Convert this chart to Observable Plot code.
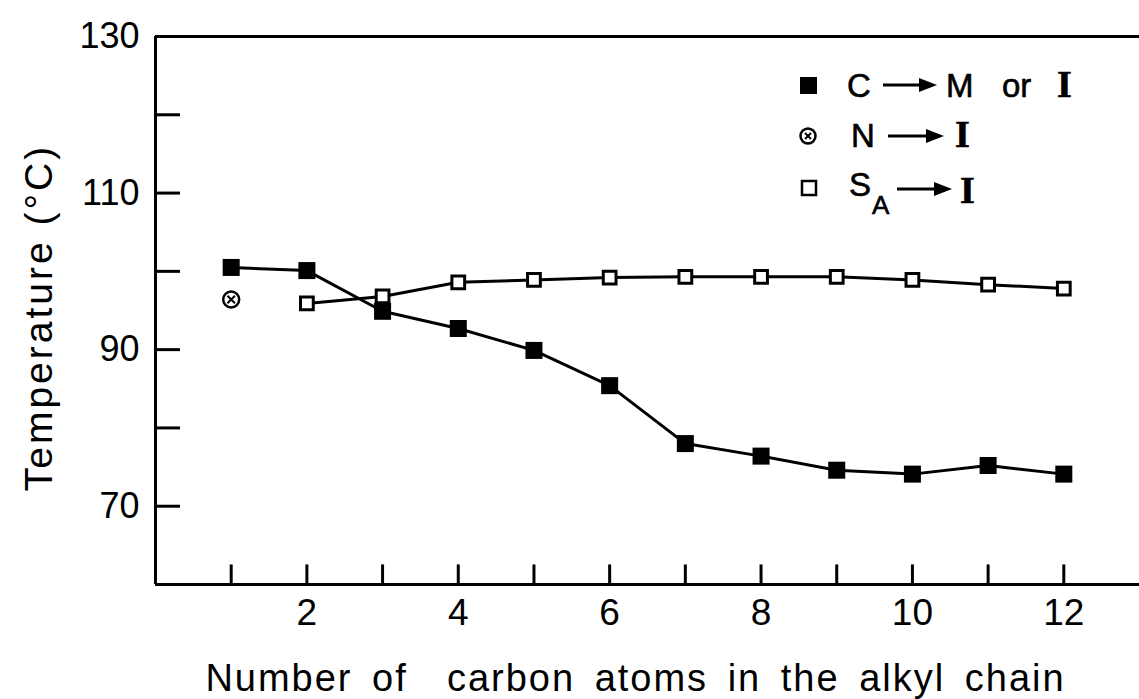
<!DOCTYPE html>
<html>
<head>
<meta charset="utf-8">
<script src="https://cdn.jsdelivr.net/npm/d3@7"></script>
<script src="https://cdn.jsdelivr.net/npm/@observablehq/plot@0.6"></script>
<style>
  body { margin: 0; background: #fff; }
  #wrap { position: relative; width: 1139px; height: 699px; }
</style>
</head>
<body>
<div id="wrap"></div>
<script>
// ---- data ----
const carbonAtoms = [1, 2, 3, 4, 5, 6, 7, 8, 9, 10, 11, 12];
const crystalToMesoOrIso = [100.5, 100.1, 94.9, 92.7, 89.9, 85.4, 78.0, 76.4, 74.6, 74.1, 75.2, 74.1];
const smecticAtoms = [2, 3, 4, 5, 6, 7, 8, 9, 10, 11, 12];
const smecticToIso = [95.9, 96.8, 98.6, 98.9, 99.2, 99.3, 99.3, 99.3, 98.9, 98.3, 97.8];
const nematicAtoms = [1];
const nematicToIso = [96.4];
const xTicks = [1, 2, 3, 4, 5, 6, 7, 8, 9, 10, 11, 12];
const xTickLabels = [2, 4, 6, 8, 10, 12];
const yTicks = [70, 80, 90, 100, 110, 120];
const yTickLabels = [70, 90, 110, 130];
const xTitle = "Number of  carbon atoms in the alkyl chain";
const yTitle = "Temperature (°C)";

const cRows = carbonAtoms.map((n, i) => ({n, t: crystalToMesoOrIso[i]}));
const sRows = smecticAtoms.map((n, i) => ({n, t: smecticToIso[i]}));
const nRows = nematicAtoms.map((n, i) => ({n, t: nematicToIso[i]}));

const FONT = "'Liberation Sans', Arial, sans-serif";

const chart = Plot.plot({
  width: 1139,
  height: 699,
  marginLeft: 155,
  marginRight: 0,
  marginTop: 36,
  marginBottom: 115,
  x: {domain: [0, 13]},
  y: {domain: [60, 130]},
  style: {fontFamily: FONT, color: "#000", background: "#fff", overflow: "visible"},
  marks: [
    Plot.ruleY([130], {strokeWidth: 3}),
    Plot.ruleY([60], {strokeWidth: 3}),
    Plot.ruleX([0], {strokeWidth: 3}),
    Plot.ruleX(xTicks, {x: d => d, y1: 60, y2: 62.5, strokeWidth: 3}),
    Plot.ruleY(yTicks, {y: d => d, x1: 0, x2: 0.33, strokeWidth: 3}),
    Plot.axisX(xTickLabels, {tickSize: 0, tickPadding: 14, fontSize: 37, label: null}),
    Plot.axisY(yTickLabels, {tickSize: 0, tickPadding: 16, fontSize: 36, label: null}),
    Plot.line(cRows, {x: "n", y: "t", stroke: "#000", strokeWidth: 3}),
    Plot.line(sRows, {x: "n", y: "t", stroke: "#000", strokeWidth: 3}),
    Plot.dot(cRows, {x: "n", y: "t", symbol: "square", r: 9.6, fill: "#000", stroke: "none"}),
    Plot.dot(sRows, {x: "n", y: "t", symbol: "square", r: 7.2, fill: "#fff", stroke: "#000", strokeWidth: 3}),
    Plot.dot(nRows, {x: "n", y: "t", symbol: "circle", r: 8, fill: "#fff", stroke: "#000", strokeWidth: 2.5}),
    Plot.dot(nRows, {x: "n", y: "t", symbol: "times", r: 3.5, stroke: "#000", strokeWidth: 2}),
    Plot.text([xTitle], {frameAnchor: "bottom", dx: -12, dy: 94, fontSize: 38, lineAnchor: "middle", textAnchor: "middle"}),
    Plot.text([yTitle], {frameAnchor: "left", rotate: -90, dx: -116, dy: 7, fontSize: 39, lineAnchor: "middle", textAnchor: "middle"})
  ]
});

document.getElementById("wrap").appendChild(chart);

const svg = d3.select(chart);
svg.selectAll("text").filter(function() { return this.textContent === xTitle; })
  .style("word-spacing", "7px").style("letter-spacing", "2px").style("white-space", "pre");
svg.selectAll("text").filter(function() { return this.textContent === yTitle; })
  .style("letter-spacing", "3px");

// ---- legend ----
const lg = svg.append("g").attr("font-family", FONT).attr("font-size", 33).attr("fill", "#000")
  .attr("text-anchor", "start").attr("stroke", "#000").attr("stroke-width", 0.6);
function arrow(x1, x2, y) {
  lg.append("line").attr("x1", x1).attr("x2", x2 - 12).attr("y1", y).attr("y2", y)
    .attr("stroke", "#000").attr("stroke-width", 3);
  lg.append("path").attr("d", `M${x2 - 18},${y - 7}L${x2},${y}L${x2 - 18},${y + 7}Z`).attr("fill", "#000").attr("stroke", "none");
}
function txt(x, y, s, opts = {}) {
  const t = lg.append("text").attr("x", x).attr("y", y).attr("text-anchor", "start").text(s);
  if (opts.serif) t.attr("font-family", "'Liberation Serif', serif").attr("font-weight", "bold").attr("font-size", 38);
  if (opts.size) t.attr("font-size", opts.size);
  return t;
}
// row 1
lg.append("rect").attr("x", 800).attr("y", 77).attr("width", 17).attr("height", 17).attr("fill", "#000").attr("stroke", "none");
txt(847, 97, "C");
arrow(883, 937, 85);
txt(946, 97, "M");
txt(1002, 97, "or");
txt(1057, 97, "I", {serif: true});
// row 2
lg.append("circle").attr("cx", 808).attr("cy", 136).attr("r", 7.5).attr("fill", "#fff").attr("stroke", "#000").attr("stroke-width", 2.5);
lg.append("path").attr("d", "M805,133L811,139M811,133L805,139").attr("stroke", "#000").attr("stroke-width", 2);
txt(851, 147, "N");
arrow(888, 944, 136);
txt(955, 147, "I", {serif: true});
// row 3
lg.append("rect").attr("x", 802).attr("y", 181).attr("width", 14).attr("height", 14).attr("fill", "#fff").attr("stroke", "#000").attr("stroke-width", 2.5);
txt(849, 196, "S");
txt(872, 214, "A", {size: 26});
arrow(897, 952, 189);
txt(960, 203, "I", {serif: true});
</script>
</body>
</html>
